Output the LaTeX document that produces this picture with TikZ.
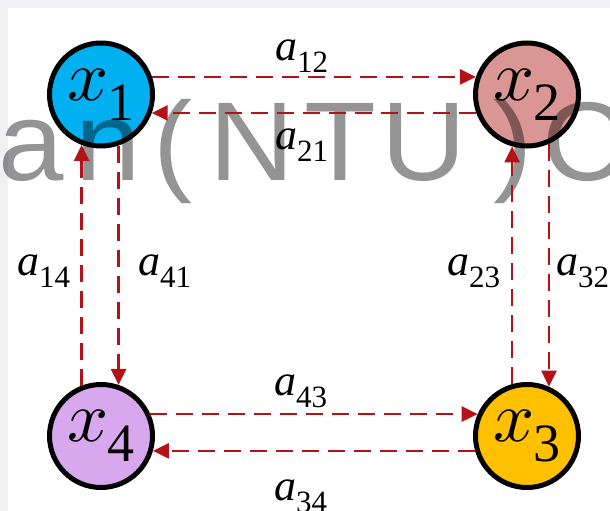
\documentclass[tikz,border=0pt]{standalone}
\usepackage{fontspec}
\setmainfont{Liberation Serif}
\newfontfamily\wmfont{Liberation Sans}
\usetikzlibrary{arrows.meta}
\definecolor{bgg}{RGB}{241,241,243}
\definecolor{arrred}{RGB}{180,18,22}
\definecolor{cone}{HTML}{00B0F0}
\definecolor{ctwo}{HTML}{DA9694}
\definecolor{cthree}{HTML}{FFC000}
\definecolor{cfour}{HTML}{D8A8EE}
\newcommand\nodelab[2]{\scalebox{7.2}{$#1$}\kern-1pt\raisebox{-20pt}{\fontsize{54}{54}\selectfont #2}}
\newcommand\edgelab[2]{\fontsize{44}{44}\selectfont\textit{#1}\raisebox{-12pt}{\fontsize{31}{31}\selectfont #2}}
\newcommand\wmlet[1]{\wmfont\fontsize{112}{112}\selectfont\scalebox{1.05}[1.0]{#1}}
\begin{document}
\begin{tikzpicture}[x=1pt,y=-1pt,
  state/.style={circle,draw=black,line width=5pt,minimum size=103pt,inner sep=0pt},
  conn/.style={draw=arrred,line width=2.5pt,dash pattern=on 17pt off 9pt,-{Triangle[length=16pt,width=15pt]}},
  elab/.style={anchor=base west,inner sep=0pt},
  wm/.style={anchor=base west,inner sep=0pt,text=black,text opacity=0.42}]
\useasboundingbox (0,0) rectangle (610,511);
\clip (0,0) rectangle (610,511);
\fill[bgg] (0,0) rectangle (610,511);
\fill[white] (8,8) rectangle (610,511);

\node[state,fill=cone] (x1) at (101,94.5) {\nodelab{x}{1}};
\node[state,fill=ctwo] (x2) at (527,94.5) {\nodelab{x}{2}};
\node[state,fill=cthree] (x3) at (527,436) {\nodelab{x}{3}};
\node[state,fill=cfour] (x4) at (101,436) {\nodelab{x}{4}};

\begin{scope}
\clip (0,0) rectangle (610,212);
\node[wm] (w1) at (-2,180) {\wmlet{a}};
\node[wm] (w2) at (75,180) {\wmlet{n}};
\node[wm] (w3) at (153,180) {\wmlet{(}};
\node[wm] (w4) at (209,180) {\wmlet{N}};
\node[wm] (w5) at (304,180) {\wmlet{T}};
\node[wm] (w6) at (381,180) {\wmlet{U}};
\node[wm] (w7) at (493,180) {\wmlet{)}};
\node[wm] (w8) at (542,180) {\wmlet{C}};
\end{scope}

\draw[conn] (x1.19) -- (x2.161);
\draw[conn] (x2.200) -- (x1.-20);
\draw[conn] (x4.111) -- (x1.249);
\draw[conn] (x1.289) -- (x4.71);
\draw[conn] (x3.106) -- (x2.254);
\draw[conn] (x2.294) -- (x3.66);
\draw[conn] (x4.24) -- (x3.156);
\draw[conn] (x3.196) -- (x4.-16);

\node[elab] (l12) at (275,60) {\edgelab{a}{12}};
\node[elab] (l21) at (275,149) {\edgelab{a}{21}};
\node[elab] (l14) at (17,275) {\edgelab{a}{14}};
\node[elab] (l41) at (138,275) {\edgelab{a}{41}};
\node[elab] (l23) at (447,275) {\edgelab{a}{23}};
\node[elab] (l32) at (556,275) {\edgelab{a}{32}};
\node[elab] (l43) at (274,395) {\edgelab{a}{43}};
\node[elab] (l34) at (274,500) {\edgelab{a}{34}};
\end{tikzpicture}
\end{document}
